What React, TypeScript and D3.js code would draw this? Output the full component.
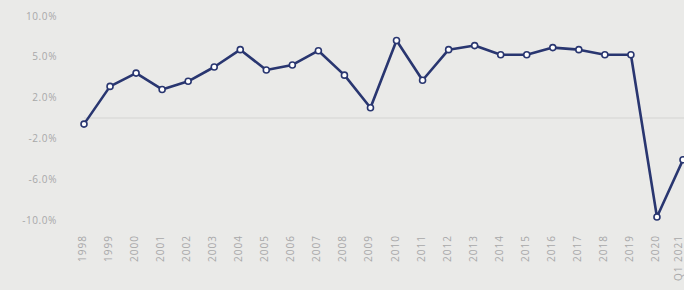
import React, { useRef, useEffect } from 'react';
import * as d3 from 'd3';

const years = [
  '1998', '1999', '2000', '2001', '2002', '2003', '2004', '2005', '2006', '2007', '2008', '2009',
  '2010', '2011', '2012', '2013', '2014', '2015', '2016', '2017', '2018', '2019', '2020', 'Q1 2021'
];
const growth = [
  -0.6, 3.1, 4.4, 2.8, 3.6, 5.0, 6.7, 4.7, 5.2, 6.6, 4.2, 1.0,
  7.6, 3.7, 6.7, 7.1, 6.2, 6.2, 6.9, 6.7, 6.2, 6.2, -9.7, -4.1
];
const yTickValues = [10, 6, 2, -2, -6, -10];
const yTickLabels = ['10.0%', '5.0%', '2.0%', '-2.0%', '-6.0%', '-10.0%'];

const width = 684;
const height = 290;

export default function App() {
  const svgRef = useRef<SVGSVGElement>(null);

  useEffect(() => {
    if (!svgRef.current) return;
    const svg = d3.select(svgRef.current);
    svg.selectAll('*').remove();

    svg.append('rect')
      .attr('width', width)
      .attr('height', height)
      .attr('fill', '#eaeae8');

    const xScale = d3.scaleLinear()
      .domain([0, years.length - 1])
      .range([84, 683]);

    const yScale = d3.scaleLinear()
      .domain([-10, 10])
      .range([220, 16]);

    const font = "'Open Sans', 'DejaVu Sans', sans-serif";

    // zero line
    svg.append('line')
      .attr('x1', xScale(0))
      .attr('x2', width)
      .attr('y1', yScale(0))
      .attr('y2', yScale(0))
      .attr('stroke', '#d4d4d2')
      .attr('stroke-width', 1.2);

    // y labels
    svg.append('g')
      .selectAll('text')
      .data(yTickValues)
      .join('text')
      .attr('x', 57)
      .attr('y', d => yScale(d))
      .attr('dy', '0.35em')
      .attr('text-anchor', 'end')
      .attr('fill', '#a8a8a8')
      .attr('font-family', font)
      .attr('font-size', '10px')
      .attr('letter-spacing', '0.6px')
      .text((d, i) => yTickLabels[i]);

    // x labels (last one kept inside the frame)
    svg.append('g')
      .selectAll('text')
      .data(years)
      .join('text')
      .attr('transform', (d, i) => `translate(${Math.min(xScale(i) - 1.5, width - 6)},235) rotate(-90)`)
      .attr('dy', '0.35em')
      .attr('text-anchor', 'end')
      .attr('fill', '#a8a8a8')
      .attr('font-family', font)
      .attr('font-size', '10px')
      .attr('letter-spacing', '1px')
      .text(d => d);

    const line = d3.line<number>()
      .x((d, i) => xScale(i))
      .y(d => yScale(d));

    svg.append('path')
      .datum(growth)
      .attr('d', line)
      .attr('fill', 'none')
      .attr('stroke', '#293670')
      .attr('stroke-width', 2.6)
      .attr('stroke-linejoin', 'round');

    svg.append('g')
      .selectAll('circle')
      .data(growth)
      .join('circle')
      .attr('cx', (d, i) => xScale(i))
      .attr('cy', d => yScale(d))
      .attr('r', 3)
      .attr('fill', '#ffffff')
      .attr('stroke', '#293670')
      .attr('stroke-width', 1.6);
  }, []);

  return (
    <div style={{ position: 'fixed', left: 0, top: 0 }}>
      <svg ref={svgRef} width={width} height={height} style={{ display: 'block' }} />
    </div>
  );
}
